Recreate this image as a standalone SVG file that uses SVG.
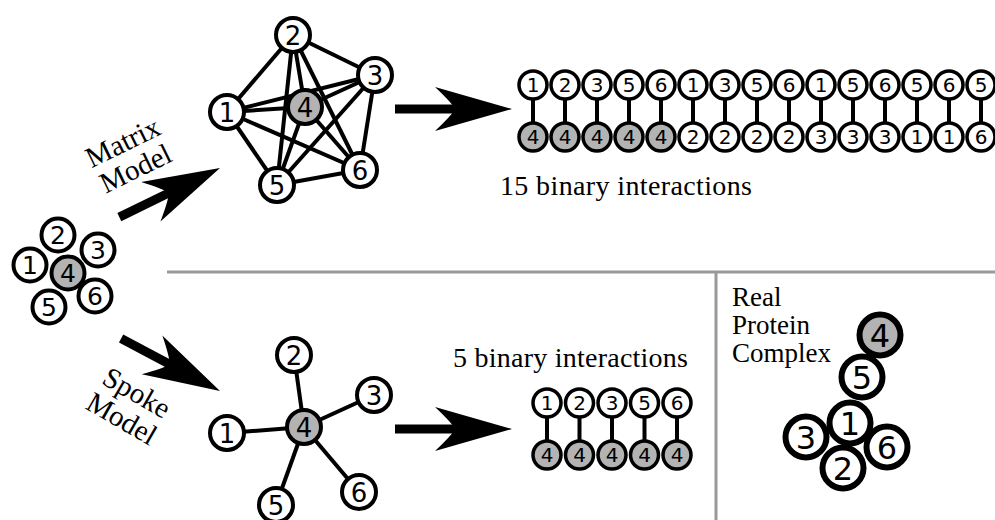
<svg xmlns="http://www.w3.org/2000/svg" xmlns:xlink="http://www.w3.org/1999/xlink" width="995" height="520" viewBox="0 0 995 520">
<style>
.nd circle{fill:#fff;stroke:#000;stroke-width:4}
.nd.g circle{fill:#b3b3b3}
.nd text{font-family:"DejaVu Sans",sans-serif;text-anchor:middle;fill:#000}
.m text{font-size:26px}
.s circle{stroke-width:3.5}
.s text{font-size:20px}
.c circle{stroke-width:6}
.c text{font-size:32px}
.l text{font-size:25px}
.e line{stroke:#000;stroke-width:4;stroke-linecap:butt}
.div{stroke:#999;stroke-width:3;fill:none}
.lab{font-family:"Liberation Serif","Times New Roman",serif;font-size:27px;fill:#000}
.big{font-size:28px}
.rot{font-size:29px;text-anchor:middle}
.shaft{stroke:#000;stroke-width:9}
</style>
<defs>
<path id="head" d="M0,0 L-77,-22 Q-60,-6 -57,0 Q-60,6 -77,22 Z" fill="#000"/>
</defs>
<rect width="995" height="520" fill="#fff"/>
<!-- dividers -->
<line class="div" x1="167" y1="272" x2="995" y2="272"/>
<line class="div" x1="716" y1="272" x2="716" y2="520"/>
<!-- connectors -->
<g id="connectors" class="e">
<!-- matrix K6 -->
<line x1="227" y1="112" x2="293" y2="35"/>
<line x1="227" y1="112" x2="375" y2="75"/>
<line x1="227" y1="112" x2="305" y2="107"/>
<line x1="227" y1="112" x2="277" y2="185"/>
<line x1="227" y1="112" x2="360" y2="170"/>
<line x1="293" y1="35" x2="375" y2="75"/>
<line x1="293" y1="35" x2="305" y2="107"/>
<line x1="293" y1="35" x2="277" y2="185"/>
<line x1="293" y1="35" x2="360" y2="170"/>
<line x1="375" y1="75" x2="305" y2="107"/>
<line x1="375" y1="75" x2="277" y2="185"/>
<line x1="375" y1="75" x2="360" y2="170"/>
<line x1="305" y1="107" x2="277" y2="185"/>
<line x1="305" y1="107" x2="360" y2="170"/>
<line x1="277" y1="185" x2="360" y2="170"/>
<!-- spoke -->
<line x1="304" y1="427" x2="227" y2="433"/>
<line x1="304" y1="427" x2="294" y2="355"/>
<line x1="304" y1="427" x2="374" y2="395"/>
<line x1="304" y1="427" x2="276" y2="505"/>
<line x1="304" y1="427" x2="359" y2="492"/>
<!-- pair links top -->
<line x1="533" y1="85" x2="533" y2="137"/>
<line x1="565" y1="85" x2="565" y2="137"/>
<line x1="597" y1="85" x2="597" y2="137"/>
<line x1="629" y1="85" x2="629" y2="137"/>
<line x1="661" y1="85" x2="661" y2="137"/>
<line x1="693" y1="85" x2="693" y2="137"/>
<line x1="725" y1="85" x2="725" y2="137"/>
<line x1="757" y1="85" x2="757" y2="137"/>
<line x1="789" y1="85" x2="789" y2="137"/>
<line x1="821" y1="85" x2="821" y2="137"/>
<line x1="853" y1="85" x2="853" y2="137"/>
<line x1="885" y1="85" x2="885" y2="137"/>
<line x1="917" y1="85" x2="917" y2="137"/>
<line x1="949" y1="85" x2="949" y2="137"/>
<line x1="981" y1="85" x2="981" y2="137"/>
<!-- pair links bottom -->
<line x1="547" y1="403" x2="547" y2="455"/>
<line x1="579.5" y1="403" x2="579.5" y2="455"/>
<line x1="612" y1="403" x2="612" y2="455"/>
<line x1="644.5" y1="403" x2="644.5" y2="455"/>
<line x1="677" y1="403" x2="677" y2="455"/>
</g>
<!-- arrows -->
<g id="arrows">
<g transform="translate(220,168) rotate(-26)"><line class="shaft" x1="-112" y1="0" x2="-56" y2="0"/><use xlink:href="#head"/></g>
<g transform="translate(220,391) rotate(28)"><line class="shaft" x1="-112" y1="0" x2="-56" y2="0"/><use xlink:href="#head"/></g>
<g transform="translate(512,109)"><line class="shaft" x1="-117" y1="0" x2="-56" y2="0"/><use xlink:href="#head"/></g>
<g transform="translate(512,429)"><line class="shaft" x1="-117" y1="0" x2="-56" y2="0"/><use xlink:href="#head"/></g>
</g>
<!-- labels -->
<g transform="translate(127,151) rotate(-26)"><text class="lab rot" x="0" y="0">Matrix</text><text class="lab rot" x="0" y="29">Model</text></g>
<g transform="translate(132,401) rotate(30)"><text class="lab rot" x="0" y="0">Spoke</text><text class="lab rot" x="0" y="30">Model</text></g>
<text class="lab big" x="500" y="195" textLength="252" lengthAdjust="spacing">15 binary interactions</text>
<text class="lab big" x="453" y="367" textLength="235" lengthAdjust="spacing">5 binary interactions</text>
<text class="lab" x="732" y="306">Real</text>
<text class="lab" x="732" y="334">Protein</text>
<text class="lab" x="732" y="362">Complex</text>
<!-- left cluster -->
<g id="cluster" class="l">
<g id="c1" class="nd"><circle cx="30" cy="265" r="16.5"/><text x="30" y="274">1</text></g>
<g id="c2" class="nd"><circle cx="58" cy="235" r="16.5"/><text x="58" y="244">2</text></g>
<g id="c3" class="nd"><circle cx="98" cy="250" r="16.5"/><text x="98" y="259">3</text></g>
<g id="c5" class="nd"><circle cx="49" cy="307" r="16.5"/><text x="49" y="316">5</text></g>
<g id="c6" class="nd"><circle cx="95" cy="296" r="16.5"/><text x="95" y="305">6</text></g>
<g id="c4" class="nd g"><circle cx="68" cy="273" r="16.5"/><text x="68" y="282">4</text></g>
</g>
<!-- matrix nodes -->
<g id="matrix" class="m">
<g id="m1" class="nd"><circle cx="227" cy="112" r="17"/><text x="227" y="121.5">1</text></g>
<g id="m2" class="nd"><circle cx="293" cy="35" r="17"/><text x="293" y="44.5">2</text></g>
<g id="m3" class="nd"><circle cx="375" cy="75" r="17"/><text x="375" y="84.5">3</text></g>
<g id="m4" class="nd g"><circle cx="305" cy="107" r="17"/><text x="305" y="116.5">4</text></g>
<g id="m5" class="nd"><circle cx="277" cy="185" r="17"/><text x="277" y="194.5">5</text></g>
<g id="m6" class="nd"><circle cx="360" cy="170" r="17"/><text x="360" y="179.5">6</text></g>
</g>
<!-- spoke nodes -->
<g id="spoke" class="m">
<g id="s1" class="nd"><circle cx="227" cy="433" r="17"/><text x="227" y="442.5">1</text></g>
<g id="s2" class="nd"><circle cx="294" cy="355" r="17"/><text x="294" y="364.5">2</text></g>
<g id="s3" class="nd"><circle cx="374" cy="395" r="17"/><text x="374" y="404.5">3</text></g>
<g id="s4" class="nd g"><circle cx="304" cy="427" r="17"/><text x="304" y="436.5">4</text></g>
<g id="s5" class="nd"><circle cx="276" cy="505" r="17"/><text x="276" y="514.5">5</text></g>
<g id="s6" class="nd"><circle cx="359" cy="492" r="17"/><text x="359" y="501.5">6</text></g>
</g>
<!-- top pairs -->
<g id="pairs15" class="s">
<g id="t1" class="nd"><circle cx="533" cy="85" r="14"/><text x="533" y="92.3">1</text></g>
<g id="t2" class="nd"><circle cx="565" cy="85" r="14"/><text x="565" y="92.3">2</text></g>
<g id="t3" class="nd"><circle cx="597" cy="85" r="14"/><text x="597" y="92.3">3</text></g>
<g id="t4" class="nd"><circle cx="629" cy="85" r="14"/><text x="629" y="92.3">5</text></g>
<g id="t5" class="nd"><circle cx="661" cy="85" r="14"/><text x="661" y="92.3">6</text></g>
<g id="t6" class="nd"><circle cx="693" cy="85" r="14"/><text x="693" y="92.3">1</text></g>
<g id="t7" class="nd"><circle cx="725" cy="85" r="14"/><text x="725" y="92.3">3</text></g>
<g id="t8" class="nd"><circle cx="757" cy="85" r="14"/><text x="757" y="92.3">5</text></g>
<g id="t9" class="nd"><circle cx="789" cy="85" r="14"/><text x="789" y="92.3">6</text></g>
<g id="t10" class="nd"><circle cx="821" cy="85" r="14"/><text x="821" y="92.3">1</text></g>
<g id="t11" class="nd"><circle cx="853" cy="85" r="14"/><text x="853" y="92.3">5</text></g>
<g id="t12" class="nd"><circle cx="885" cy="85" r="14"/><text x="885" y="92.3">6</text></g>
<g id="t13" class="nd"><circle cx="917" cy="85" r="14"/><text x="917" y="92.3">5</text></g>
<g id="t14" class="nd"><circle cx="949" cy="85" r="14"/><text x="949" y="92.3">6</text></g>
<g id="t15" class="nd"><circle cx="981" cy="85" r="14"/><text x="981" y="92.3">5</text></g>
<g id="b1" class="nd g"><circle cx="533" cy="137" r="14"/><text x="533" y="144.3">4</text></g>
<g id="b2" class="nd g"><circle cx="565" cy="137" r="14"/><text x="565" y="144.3">4</text></g>
<g id="b3" class="nd g"><circle cx="597" cy="137" r="14"/><text x="597" y="144.3">4</text></g>
<g id="b4" class="nd g"><circle cx="629" cy="137" r="14"/><text x="629" y="144.3">4</text></g>
<g id="b5" class="nd g"><circle cx="661" cy="137" r="14"/><text x="661" y="144.3">4</text></g>
<g id="b6" class="nd"><circle cx="693" cy="137" r="14"/><text x="693" y="144.3">2</text></g>
<g id="b7" class="nd"><circle cx="725" cy="137" r="14"/><text x="725" y="144.3">2</text></g>
<g id="b8" class="nd"><circle cx="757" cy="137" r="14"/><text x="757" y="144.3">2</text></g>
<g id="b9" class="nd"><circle cx="789" cy="137" r="14"/><text x="789" y="144.3">2</text></g>
<g id="b10" class="nd"><circle cx="821" cy="137" r="14"/><text x="821" y="144.3">3</text></g>
<g id="b11" class="nd"><circle cx="853" cy="137" r="14"/><text x="853" y="144.3">3</text></g>
<g id="b12" class="nd"><circle cx="885" cy="137" r="14"/><text x="885" y="144.3">3</text></g>
<g id="b13" class="nd"><circle cx="917" cy="137" r="14"/><text x="917" y="144.3">1</text></g>
<g id="b14" class="nd"><circle cx="949" cy="137" r="14"/><text x="949" y="144.3">1</text></g>
<g id="b15" class="nd"><circle cx="981" cy="137" r="14"/><text x="981" y="144.3">6</text></g>
</g>
<!-- bottom pairs -->
<g id="pairs5" class="s">
<g id="u1" class="nd"><circle cx="547" cy="403" r="14"/><text x="547" y="410.3">1</text></g>
<g id="u2" class="nd"><circle cx="579.5" cy="403" r="14"/><text x="579.5" y="410.3">2</text></g>
<g id="u3" class="nd"><circle cx="612" cy="403" r="14"/><text x="612" y="410.3">3</text></g>
<g id="u4" class="nd"><circle cx="644.5" cy="403" r="14"/><text x="644.5" y="410.3">5</text></g>
<g id="u5" class="nd"><circle cx="677" cy="403" r="14"/><text x="677" y="410.3">6</text></g>
<g id="v1" class="nd g"><circle cx="547" cy="455" r="14"/><text x="547" y="462.3">4</text></g>
<g id="v2" class="nd g"><circle cx="579.5" cy="455" r="14"/><text x="579.5" y="462.3">4</text></g>
<g id="v3" class="nd g"><circle cx="612" cy="455" r="14"/><text x="612" y="462.3">4</text></g>
<g id="v4" class="nd g"><circle cx="644.5" cy="455" r="14"/><text x="644.5" y="462.3">4</text></g>
<g id="v5" class="nd g"><circle cx="677" cy="455" r="14"/><text x="677" y="462.3">4</text></g>
</g>
<!-- real complex -->
<g id="complex" class="c">
<g id="r4" class="nd g"><circle cx="880" cy="335" r="20.5"/><text x="880" y="346.7">4</text></g>
<g id="r5" class="nd"><circle cx="862" cy="377" r="20.5"/><text x="862" y="388.7">5</text></g>
<g id="r3" class="nd"><circle cx="806" cy="437" r="20.5"/><text x="806" y="448.7">3</text></g>
<g id="r6" class="nd"><circle cx="887" cy="447" r="20.5"/><text x="887" y="458.7">6</text></g>
<g id="r2" class="nd"><circle cx="843" cy="468" r="20.5"/><text x="843" y="479.7">2</text></g>
<g id="r1" class="nd"><circle cx="850" cy="423" r="20.5"/><text x="850" y="434.7">1</text></g>
</g>
</svg>
